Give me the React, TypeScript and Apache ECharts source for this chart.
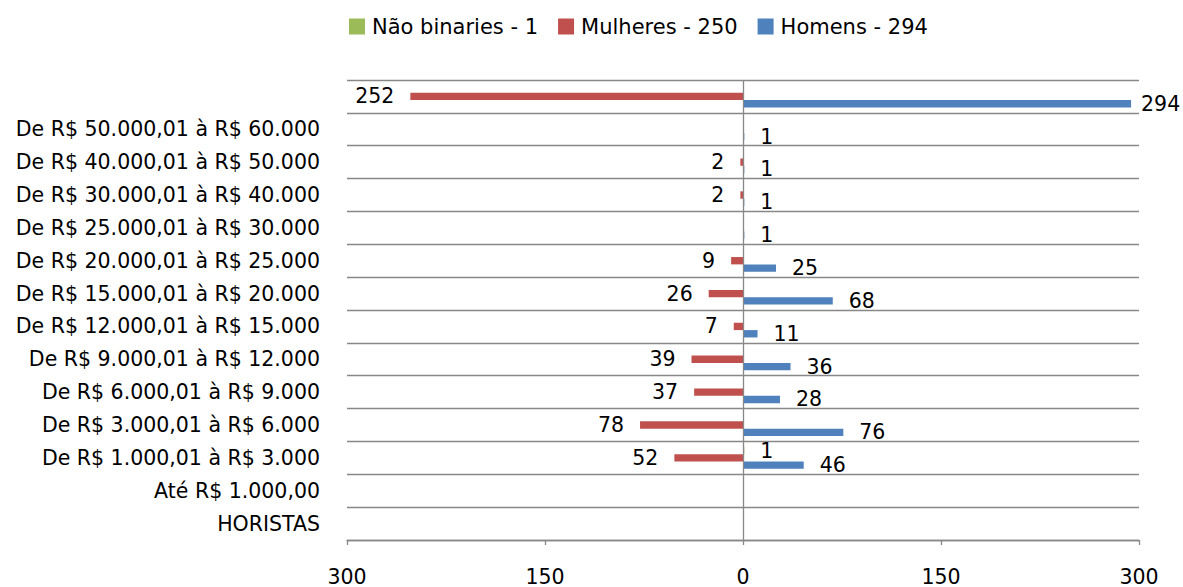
import React, { useEffect, useRef } from "react";
import * as echarts from "echarts";

const categories = [
  "HORISTAS",
  "Até R$ 1.000,00",
  "De R$ 1.000,01 à R$ 3.000",
  "De R$ 3.000,01 à R$ 6.000",
  "De R$ 6.000,01 à R$ 9.000",
  "De R$ 9.000,01 à R$ 12.000",
  "De R$ 12.000,01 à R$ 15.000",
  "De R$ 15.000,01 à R$ 20.000",
  "De R$ 20.000,01 à R$ 25.000",
  "De R$ 25.000,01 à R$ 30.000",
  "De R$ 30.000,01 à R$ 40.000",
  "De R$ 40.000,01 à R$ 50.000",
  "De R$ 50.000,01 à R$ 60.000",
  "",
];

const homens = [null, null, 46, 76, 28, 36, 11, 68, 25, 1, 1, 1, 1, 294];
const mulheres = [null, null, 52, 78, 37, 39, 7, 26, 9, null, 2, 2, null, 252];
const naoBinaries = [null, null, 1, null, null, null, null, null, null, null, null, null, null, null];

const seriesNames = ["Não binaries - 1", "Mulheres - 250", "Homens - 294"];
const xTicks = { min: -300, max: 300, interval: 150 };

const FONT = "DejaVu Sans";
const FS = 20.5;
const GRID = "#888888";

export default function App() {
  const ref = useRef<HTMLDivElement>(null);
  useEffect(() => {
    if (!ref.current) return;
    const chart = echarts.init(ref.current, undefined, { renderer: "svg" });
    const labelBase = { show: true, color: "#000", fontSize: FS, fontFamily: FONT, distance: 16 };
    const homensData = homens.map((v, i) =>
      v != null && i === homens.length - 1 ? { value: v, label: { distance: 10 } } : v
    );
    chart.setOption({
      animation: false,
      textStyle: { fontFamily: FONT },
      legend: {
        top: 11,
        left: 344,
        itemWidth: 16,
        itemHeight: 16,
        itemGap: 20,
        icon: "rect",
        data: seriesNames,
        textStyle: { fontSize: 21, color: "#000", fontFamily: FONT, padding: [0, 0, 0, 2] },
      },
      grid: { left: 347, right: 44, top: 80, bottom: 44, containLabel: false },
      xAxis: {
        type: "value",
        min: xTicks.min,
        max: xTicks.max,
        interval: xTicks.interval,
        axisLine: { show: true, onZero: false, lineStyle: { color: GRID, width: 1.3 } },
        axisTick: { show: true, length: 5, lineStyle: { color: GRID, width: 1.3 } },
        splitLine: { show: false },
        axisLabel: {
          formatter: (v: number) => String(Math.abs(v)),
          fontSize: FS,
          color: "#000",
          fontFamily: FONT,
          margin: 26,
        },
      },
      yAxis: {
        type: "category",
        data: categories,
        axisLine: { show: false },
        axisTick: { show: false },
        splitLine: { show: true, interval: 0, lineStyle: { color: GRID, width: 1.3 } },
        axisLabel: { interval: 0, fontSize: FS, color: "#000", fontFamily: FONT, margin: 27 },
      },
      series: [
        {
          name: seriesNames[0],
          type: "bar",
          data: naoBinaries,
          barGap: "0%",
          barCategoryGap: "33%",
          itemStyle: { color: "#9BBB59" },
          label: { ...labelBase, position: "right" },
        },
        {
          name: seriesNames[1],
          type: "bar",
          data: mulheres.map((v) => (v == null ? null : -v)),
          barGap: "0%",
          barCategoryGap: "33%",
          itemStyle: { color: "#C0504D" },
          label: {
            ...labelBase,
            position: "left",
            formatter: (p: any) => String(Math.abs(p.value)),
          },
        },
        {
          name: seriesNames[2],
          type: "bar",
          data: homensData,
          barGap: "0%",
          barCategoryGap: "33%",
          itemStyle: { color: "#4F81BD" },
          label: { ...labelBase, position: "right" },
          markLine: {
            silent: true,
            symbol: "none",
            label: { show: false },
            lineStyle: { color: GRID, width: 1.3, type: "solid" },
            data: [{ xAxis: 0 }],
          },
        },
      ],
    });
    return () => chart.dispose();
  }, []);
  return (
    <div
      ref={ref}
      style={{ position: "fixed", left: 0, top: 0, width: 1183, height: 587, background: "#fff" }}
    />
  );
}
